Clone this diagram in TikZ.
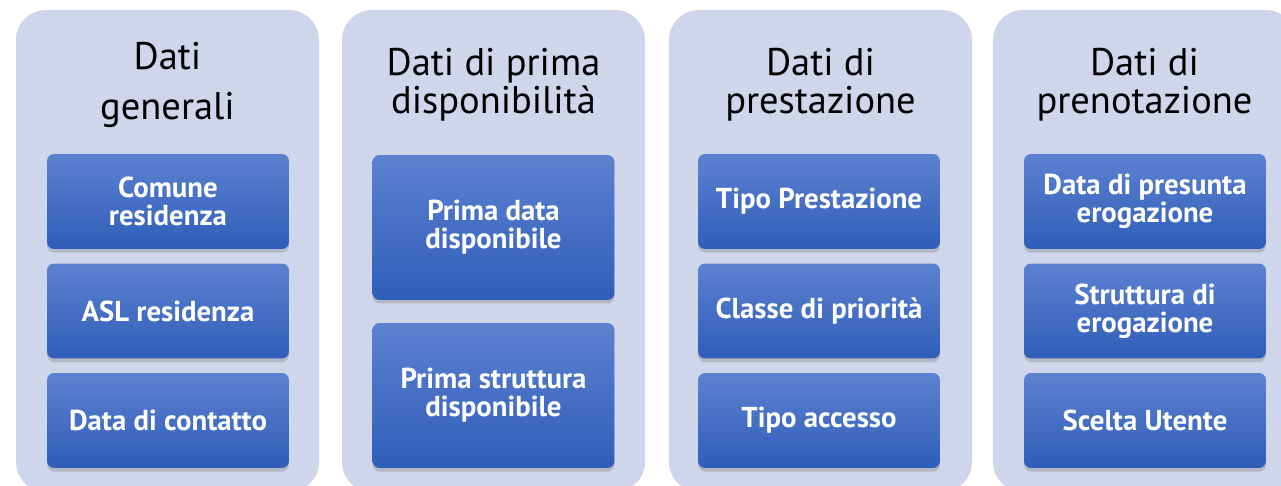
\documentclass[tikz,border=0pt]{standalone}
\usepackage{fontspec}
\setmainfont{PT Sans}
\usetikzlibrary{shadows}

\definecolor{pannello}{RGB}{207,213,234}
\definecolor{bluchiaro}{RGB}{92,129,208}
\definecolor{bluscuro}{RGB}{47,94,184}

\tikzset{
  colonna/.style={fill=pannello, rounded corners=0.6cm},
  titolo/.style={align=center, inner sep=0pt,
    font=\fontsize{21.9}{21.5}\selectfont},
  dato/.style={rounded corners=0.14cm, top color=bluchiaro,
    bottom color=bluscuro, text=white, align=center, inner sep=0pt,
    font=\bfseries\fontsize{16.4}{16}\selectfont,
    minimum width=4.84cm, minimum height=1.9cm,
    drop shadow={shadow xshift=0pt, shadow yshift=-2pt, opacity=0.35}},
  datoalto/.style={dato, minimum height=2.9cm}
}

\begin{document}
\begin{tikzpicture}[x=0.02cm, y=-0.02cm]
  \clip (0,0) rectangle (1281,486);
  % colonne
  \fill[colonna] (16,10)  rectangle (319,492);
  \fill[colonna] (342,10) rectangle (645,492);
  \fill[colonna] (669,10) rectangle (972,492);
  \fill[colonna] (993,10) rectangle (1296,492);

  % -- Dati generali
  \node[titolo, font=\fontsize{21.9}{28.9}\selectfont] (generali)
    at (167.5,85) {Dati\\generali};
  \node[dato] (comune)   at (168,201.5) {Comune\\residenza};
  \node[dato] (asl)      at (168,311)   {ASL residenza};
  \node[dato] (contatto) at (168,420.5) {Data di contatto};

  % -- Dati di prima disponibilita
  \node[titolo] (disponibilita) at (493.5,85) {Dati di prima\\disponibilità};
  \node[datoalto] (primadata)      at (493.5,227.5) {Prima data\\disponibile};
  \node[datoalto] (primastruttura) at (493.5,395.5) {Prima struttura\\disponibile};

  % -- Dati di prestazione
  \node[titolo] (prestazione) at (820.5,85) {Dati di\\prestazione};
  \node[dato] (tipoprest) at (819,201.5) {Tipo Prestazione};
  \node[dato] (classe)    at (819,311)   {Classe di priorità};
  \node[dato] (accesso)   at (819,420.5) {Tipo accesso};

  % -- Dati di prenotazione
  \node[titolo] (prenotazione) at (1144.5,85) {Dati di\\prenotazione};
  \node[dato] (presunta)   at (1145,201.5) {Data di presunta\\erogazione};
  \node[dato] (erogazione) at (1145,311)   {Struttura di\\erogazione};
  \node[dato] (scelta)     at (1145,420.5) {Scelta Utente};
\end{tikzpicture}
\end{document}
